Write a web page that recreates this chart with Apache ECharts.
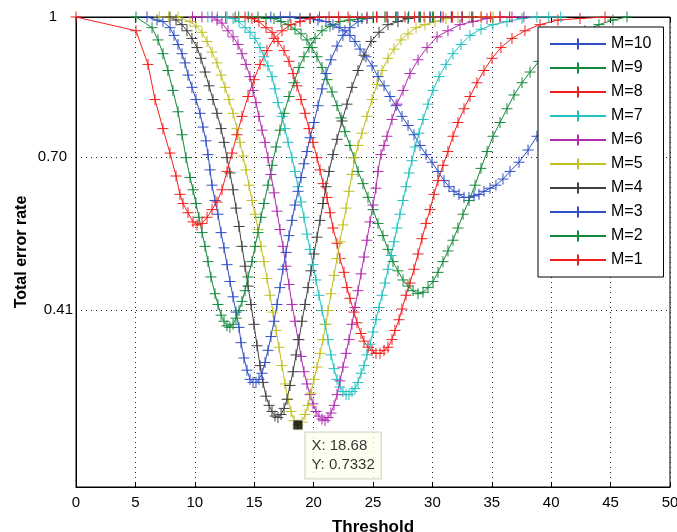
<!DOCTYPE html>
<html><head><meta charset="utf-8">
<script src="https://cdn.jsdelivr.net/npm/echarts@6/dist/echarts.min.js"></script>
<style>html,body{margin:0;padding:0;background:#fff}#c{width:677px;height:532px}</style>
</head><body><div id="c"></div>
<script>
// ---- data (x = Threshold, y = value) ----
const seriesNames = ['M=10','M=9','M=8','M=7','M=6','M=5','M=4','M=3','M=2','M=1'];
const seriesColors = ['#2f4fc4','#15893c','#f41e1e','#22c0c0','#b02cb0','#c0c020','#404040','#2f4fc4','#15893c','#f41e1e'];

const m1 = [[0,1],[5.05,0.991],[6.06,0.969],[6.65,0.946],[7.32,0.927],[7.91,0.911],[8.42,0.896],[8.75,0.884],[9.01,0.878],[9.43,0.872],[9.85,0.866],[10.19,0.864],[10.61,0.865],[11.03,0.869],[11.45,0.874],[11.87,0.879],[12.29,0.887],[12.71,0.899],[13.13,0.911],[13.55,0.923],[13.97,0.935],[14.48,0.948],[14.98,0.959],[15.49,0.969],[16.08,0.978],[16.67,0.986],[17.34,0.991],[18.10,0.995],[18.86,0.997],[19.70,0.999],[20.5,1],[21.3,1],[22.1,1],[22.9,1],[23.7,1],[24.5,1],[25.3,1],[26.1,1],[26.9,1],[27.7,1],[28.5,1],[29.3,1],[30.1,1],[30.9,1],[31.7,1],[32.5,1],[33.3,1],[34.1,1],[34.9,1],[35.7,1],[36.5,1]];

const m2 = [[5.05,1],[6.40,0.993],[6.90,0.985],[7.32,0.976],[7.74,0.965],[8.16,0.952],[8.59,0.938],[8.92,0.923],[9.26,0.908],[9.60,0.895],[9.85,0.887],[10.10,0.878],[10.35,0.869],[10.61,0.859],[10.86,0.850],[11.11,0.840],[11.36,0.830],[11.70,0.819],[11.95,0.812],[12.21,0.805],[12.46,0.801],[12.71,0.798],[12.96,0.797],[13.22,0.799],[13.47,0.803],[13.72,0.808],[13.97,0.814],[14.23,0.821],[14.48,0.830],[14.81,0.840],[15.07,0.850],[15.32,0.859],[15.57,0.869],[15.82,0.878],[16.16,0.890],[16.50,0.903],[16.84,0.915],[17.17,0.926],[17.51,0.937],[17.93,0.948],[18.35,0.957],[18.77,0.967],[19.19,0.974],[19.61,0.980],[20.12,0.986],[20.71,0.991],[21.38,0.994],[22.22,0.997],[23.06,0.998],[24.07,0.999],[25,1],[26,1],[27,1],[28,1],[29,1],[30,1]];

const m3 = [[5.98,1],[6.82,0.998],[7.32,0.997],[7.91,0.993],[8.25,0.988],[8.59,0.982],[8.92,0.976],[9.18,0.970],[9.43,0.962],[9.76,0.954],[10.10,0.946],[10.44,0.937],[10.69,0.928],[10.94,0.919],[11.11,0.910],[11.28,0.900],[11.45,0.890],[11.70,0.880],[11.95,0.871],[12.21,0.859],[12.46,0.849],[12.71,0.838],[12.96,0.827],[13.22,0.817],[13.47,0.807],[13.72,0.797],[13.89,0.787],[14.14,0.777],[14.39,0.769],[14.65,0.763],[14.90,0.761],[15.15,0.761],[15.40,0.763],[15.66,0.767],[15.91,0.774],[16.16,0.782],[16.41,0.791],[16.67,0.801],[16.92,0.812],[17.17,0.823],[17.42,0.835],[17.68,0.846],[17.93,0.857],[18.18,0.867],[18.43,0.877],[18.69,0.886],[18.94,0.895],[19.19,0.904],[19.44,0.912],[19.70,0.921],[20.03,0.931],[20.37,0.942],[20.71,0.953],[21.04,0.963],[21.46,0.972],[21.97,0.981],[22.47,0.988],[23.06,0.993],[23.74,0.997],[24.49,0.999],[25.34,1],[26.2,1],[27.1,1],[28.0,1],[28.9,1],[29.8,1],[30.7,1],[31.6,1],[32.5,1]];

const m4 = [[7.91,1],[8.42,0.998],[8.92,0.995],[9.34,0.991],[9.76,0.986],[10.19,0.980],[10.52,0.973],[10.86,0.964],[11.20,0.955],[11.53,0.946],[11.87,0.937],[12.21,0.927],[12.46,0.918],[12.71,0.908],[12.96,0.898],[13.22,0.887],[13.47,0.875],[13.72,0.863],[13.97,0.850],[14.23,0.837],[14.48,0.824],[14.73,0.812],[14.98,0.799],[15.24,0.785],[15.49,0.772],[15.74,0.761],[15.99,0.752],[16.25,0.746],[16.50,0.742],[16.75,0.739],[17.00,0.738],[17.26,0.740],[17.51,0.744],[17.76,0.750],[18.01,0.759],[18.27,0.768],[18.52,0.779],[18.77,0.789],[19.02,0.801],[19.28,0.812],[19.53,0.823],[19.78,0.834],[20.03,0.845],[20.29,0.856],[20.54,0.867],[20.79,0.878],[21.04,0.889],[21.30,0.899],[21.63,0.910],[21.97,0.920],[22.39,0.932],[22.81,0.943],[23.23,0.954],[23.74,0.965],[24.24,0.975],[24.83,0.984],[25.51,0.990],[26.26,0.995],[27.10,0.997],[27.95,0.999],[28.87,1],[29.8,1],[30.7,1],[31.6,1],[32.5,1],[33.4,1]];

const m5 = [[7.0,1],[7.8,1],[8.59,1],[9.60,0.997],[10.10,0.994],[10.61,0.990],[11.03,0.984],[11.45,0.977],[11.87,0.970],[12.21,0.962],[12.54,0.954],[12.88,0.946],[13.22,0.937],[13.55,0.927],[13.80,0.918],[14.06,0.909],[14.31,0.900],[14.56,0.890],[14.81,0.880],[15.07,0.871],[15.32,0.861],[15.57,0.850],[15.82,0.840],[16.08,0.829],[16.33,0.818],[16.58,0.807],[16.84,0.795],[17.09,0.784],[17.34,0.772],[17.59,0.760],[17.85,0.750],[18.10,0.742],[18.35,0.736],[18.68,0.7332],[19.02,0.735],[19.28,0.740],[19.53,0.746],[19.78,0.754],[20.03,0.763],[20.29,0.771],[20.54,0.780],[20.79,0.789],[21.04,0.799],[21.21,0.808],[21.46,0.819],[21.72,0.831],[21.97,0.842],[22.22,0.853],[22.47,0.864],[22.73,0.875],[22.98,0.886],[23.23,0.897],[23.48,0.908],[23.74,0.916],[24.07,0.924],[24.49,0.935],[24.92,0.946],[25.34,0.956],[25.76,0.965],[26.26,0.973],[26.77,0.979],[27.36,0.985],[27.95,0.989],[28.62,0.993],[29.38,0.995],[30.22,0.997],[31.14,0.999],[32.15,1],[33.1,1],[34.1,1],[35.1,1]];

const m6 = [[9.8,1],[10.6,1],[11.45,1],[11.87,0.998],[12.29,0.996],[12.79,0.991],[13.22,0.987],[13.64,0.982],[13.97,0.976],[14.31,0.969],[14.65,0.961],[14.90,0.952],[15.15,0.944],[15.40,0.935],[15.66,0.926],[15.91,0.918],[16.16,0.908],[16.41,0.897],[16.67,0.885],[16.92,0.873],[17.17,0.861],[17.42,0.850],[17.68,0.837],[17.93,0.825],[18.18,0.812],[18.43,0.801],[18.69,0.789],[18.94,0.778],[19.19,0.768],[19.44,0.760],[19.70,0.753],[19.95,0.747],[20.20,0.742],[20.45,0.739],[20.71,0.737],[20.96,0.736],[21.21,0.738],[21.46,0.741],[21.72,0.746],[21.97,0.753],[22.22,0.762],[22.47,0.771],[22.73,0.780],[22.98,0.789],[23.23,0.799],[23.48,0.810],[23.74,0.821],[23.99,0.832],[24.24,0.843],[24.49,0.854],[24.75,0.866],[25.00,0.877],[25.25,0.888],[25.42,0.899],[25.67,0.910],[25.93,0.916],[26.18,0.922],[26.60,0.933],[27.02,0.943],[27.53,0.952],[28.11,0.963],[28.79,0.972],[29.55,0.980],[30.39,0.987],[31.31,0.991],[32.32,0.995],[33.42,0.997],[34.60,0.999],[35.69,1],[36.7,1],[37.7,1]];

const m7 = [[11.1,1],[11.9,1],[12.71,1],[13.22,0.999],[13.72,0.997],[14.23,0.993],[14.65,0.990],[15.07,0.986],[15.49,0.980],[15.82,0.974],[16.16,0.968],[16.50,0.961],[16.75,0.953],[17.00,0.944],[17.34,0.935],[17.59,0.927],[17.85,0.918],[18.18,0.908],[18.43,0.899],[18.69,0.889],[18.94,0.879],[19.19,0.869],[19.44,0.858],[19.70,0.848],[19.95,0.838],[20.20,0.828],[20.45,0.818],[20.71,0.808],[20.96,0.799],[21.21,0.789],[21.46,0.779],[21.72,0.770],[21.97,0.763],[22.22,0.758],[22.47,0.755],[22.73,0.753],[22.98,0.753],[23.23,0.755],[23.48,0.757],[23.74,0.761],[23.99,0.767],[24.24,0.772],[24.49,0.779],[24.75,0.786],[25.00,0.794],[25.25,0.802],[25.51,0.810],[25.76,0.818],[26.01,0.826],[26.26,0.835],[26.52,0.844],[26.77,0.853],[27.02,0.862],[27.27,0.871],[27.53,0.880],[27.78,0.889],[28.03,0.898],[28.28,0.906],[28.54,0.915],[28.87,0.924],[29.21,0.933],[29.63,0.943],[30.05,0.952],[30.56,0.961],[31.14,0.969],[31.73,0.976],[32.41,0.982],[33.16,0.988],[34.09,0.992],[35.10,0.995],[36.28,0.997],[37.54,0.999],[38.80,1],[39.8,1],[40.8,1]];

const m8 = [[12.6,1],[13.4,1],[14.23,1],[14.81,0.999],[15.40,0.997],[15.99,0.993],[16.50,0.990],[17.00,0.984],[17.51,0.978],[17.93,0.971],[18.27,0.963],[18.60,0.955],[18.94,0.946],[19.28,0.937],[19.61,0.927],[19.95,0.918],[20.29,0.908],[20.54,0.900],[20.79,0.891],[21.13,0.882],[21.38,0.872],[21.63,0.862],[21.97,0.852],[22.22,0.842],[22.56,0.833],[22.81,0.823],[23.06,0.816],[23.40,0.807],[23.65,0.800],[23.99,0.793],[24.24,0.788],[24.58,0.784],[24.92,0.782],[25.25,0.780],[25.59,0.780],[25.93,0.782],[26.26,0.784],[26.60,0.789],[26.85,0.795],[27.19,0.802],[27.44,0.809],[27.78,0.818],[28.11,0.826],[28.45,0.835],[28.79,0.845],[29.12,0.855],[29.46,0.865],[29.80,0.874],[30.13,0.884],[30.47,0.893],[30.89,0.903],[31.31,0.912],[31.73,0.922],[32.15,0.931],[32.66,0.940],[33.16,0.948],[33.75,0.957],[34.34,0.965],[35.02,0.973],[35.77,0.980],[36.70,0.986],[37.79,0.991],[39.06,0.995],[40.57,0.998],[42.42,0.999],[44.53,1]];

const m9 = [[13.7,1],[14.5,1],[15.32,1],[15.99,0.999],[16.67,0.999],[17.26,0.997],[17.85,0.995],[18.43,0.992],[18.94,0.989],[19.44,0.985],[19.87,0.980],[20.29,0.974],[20.71,0.967],[21.13,0.959],[21.55,0.951],[21.97,0.942],[22.31,0.934],[22.64,0.925],[23.06,0.916],[23.40,0.908],[23.74,0.899],[24.16,0.891],[24.58,0.882],[25.00,0.874],[25.42,0.865],[25.84,0.857],[26.26,0.848],[26.68,0.840],[27.10,0.834],[27.53,0.828],[27.95,0.824],[28.37,0.821],[28.79,0.819],[29.21,0.820],[29.63,0.823],[30.05,0.827],[30.47,0.833],[30.89,0.840],[31.31,0.847],[31.73,0.854],[32.15,0.862],[32.58,0.871],[33.08,0.880],[33.59,0.890],[34.09,0.901],[34.60,0.912],[35.10,0.922],[35.69,0.931],[36.28,0.940],[36.87,0.949],[37.54,0.957],[38.22,0.964],[38.97,0.971],[39.81,0.976],[40.74,0.982],[41.75,0.987],[42.85,0.991],[44.02,0.995],[45.20,0.998],[46.38,1]];

const m10 = [[16.4,1],[17.2,1],[18.01,1],[18.86,0.999],[19.70,0.999],[20.37,0.998],[21.04,0.997],[21.63,0.995],[22.14,0.993],[22.64,0.991],[23.06,0.988],[23.48,0.984],[23.91,0.979],[24.41,0.974],[24.92,0.968],[25.42,0.961],[25.93,0.955],[26.43,0.948],[26.94,0.942],[27.44,0.935],[27.95,0.929],[28.45,0.923],[28.96,0.916],[29.46,0.910],[29.97,0.905],[30.47,0.899],[30.98,0.893],[31.40,0.889],[31.82,0.886],[32.24,0.884],[32.66,0.882],[33.08,0.882],[33.50,0.883],[33.92,0.884],[34.34,0.886],[34.85,0.888],[35.35,0.890],[35.94,0.894],[36.53,0.899],[37.29,0.905],[38.05,0.913],[38.80,0.922],[39.65,0.931],[40.57,0.940],[41.58,0.950],[42.68,0.959],[43.86,0.967],[45.12,0.974]];

const yTickValues = [0.8084, 0.9084, 1];
const yTickLabels = ['0.41', '0.70', '1'];
const tipPoint = [18.68, 0.7332];
const tipLines = ['X: 18.68', 'Y: 0.7332'];

// ---- chart ----
const curves = [m10, m9, m8, m7, m6, m5, m4, m3, m2, m1];
const font = '"Liberation Sans", Arial, Helvetica, sans-serif';
const plus = 'path://M0,5L10,5M5,0L5,10';
const yPadRight = {'0.41': 0, '0.70': 6, '1': 16};

const series = curves.map((d, i) => ({
  name: seriesNames[i], type: 'line', data: d,
  symbol: plus, symbolSize: 11, showAllSymbol: true,
  lineStyle: { color: seriesColors[i], width: 1 },
  itemStyle: { color: seriesColors[i], borderColor: seriesColors[i], borderWidth: 1 },
  emphasis: { disabled: true }, clip: true, z: 2
}));
series.push({
  name: 'tip', type: 'scatter', data: [tipPoint], symbol: 'rect', symbolSize: 10,
  itemStyle: { color: '#000', borderColor: '#f4f4c4', borderWidth: 1 },
  emphasis: { disabled: true }, z: 6,
  label: {
    show: true, position: [13, 13], formatter: tipLines.join('\n'),
    color: '#000', fontFamily: font, fontSize: 15, lineHeight: 19,
    backgroundColor: '#ffffee', borderColor: '#c8c8c0', borderWidth: 1,
    padding: [4, 6, 4, 6]
  }
});

const chart = echarts.init(document.getElementById('c'), null, { renderer: 'canvas' });
chart.setOption({
  animation: false,
  backgroundColor: '#fff',
  grid: { left: 76, right: 7, top: 17, bottom: 45, outerBoundsMode: 'none', containLabel: false,
          show: true, borderColor: '#000', borderWidth: 1, backgroundColor: '#fff' },
  legend: {
    data: seriesNames, orient: 'vertical', left: 538, top: 27,
    itemWidth: 56, itemHeight: 14, itemGap: 8,
    padding: [9, 12, 9, 11], backgroundColor: '#fff', borderColor: '#000', borderWidth: 1,
    textStyle: { fontFamily: font, fontSize: 16, color: '#000' }, selectedMode: false
  },
  xAxis: [{
    type: 'value', min: 0, max: 50, interval: 5, position: 'bottom',
    axisLine: { show: true, lineStyle: { color: '#000', width: 1 } },
    axisTick: { show: true, inside: true, length: 5, lineStyle: { color: '#000' } },
    axisLabel: { color: '#000', fontSize: 15, fontFamily: font, margin: 8 },
    splitLine: { show: true, lineStyle: { color: '#222', type: [1, 4], width: 1 } },
    name: 'Threshold', nameLocation: 'middle', nameGap: 32,
    nameTextStyle: { fontWeight: 'bold', fontSize: 17, color: '#000', fontFamily: font }
  }, {
    type: 'value', min: 0, max: 50, interval: 5, position: 'top',
    axisLine: { show: true, lineStyle: { color: '#000' } },
    axisTick: { show: true, inside: true, length: 5, lineStyle: { color: '#000' } },
    axisLabel: { show: false }, splitLine: { show: false }
  }],
  yAxis: [{
    type: 'value', min: 0.6926, max: 1, position: 'left',
    axisLine: { show: true, lineStyle: { color: '#000', width: 1 } },
    axisTick: { show: false, customValues: yTickValues },
    axisLabel: {
      customValues: yTickValues, color: '#000', fontSize: 15, fontFamily: font, margin: 3,
      formatter: v => {
        const i = yTickValues.findIndex(t => Math.abs(t - v) < 1e-6);
        const s = i >= 0 ? yTickLabels[i] : '';
        return '{p' + (yPadRight[s] || 0) + '|' + s + '}';
      },
      rich: {
        p0: { padding: [0, 0, 0, 0], fontSize: 15, fontFamily: font, color: '#000' },
        p6: { padding: [0, 6, 0, 0], fontSize: 15, fontFamily: font, color: '#000' },
        p16: { padding: [0, 16, 0, 0], fontSize: 15, fontFamily: font, color: '#000' }
      }
    },
    splitLine: { show: true, lineStyle: { color: '#222', type: [1, 4], width: 1 } },
    name: 'Total error rate', nameLocation: 'middle', nameGap: 46, nameMoveOverlap: false,
    nameTextStyle: { fontWeight: 'bold', fontSize: 16, color: '#000', fontFamily: font }
  }, {
    type: 'value', min: 0.6926, max: 1, position: 'right',
    axisLine: { show: true, lineStyle: { color: '#000' } },
    axisTick: { show: false },
    axisLabel: { show: false }, splitLine: { show: false }
  }],
  series: series
});
</script>
</body></html>
